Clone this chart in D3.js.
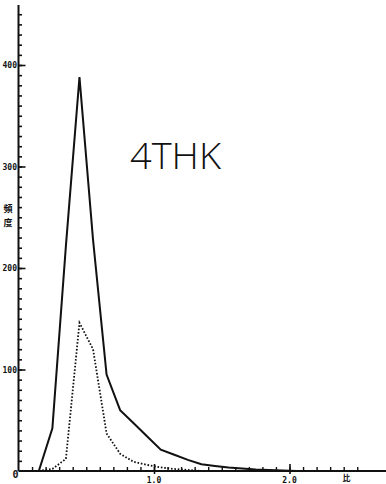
<!DOCTYPE html>
<html>
<head>
<meta charset="utf-8">
<script src="https://cdn.jsdelivr.net/npm/d3@7"></script>
<style>
  html, body { margin: 0; padding: 0; background: #fff; }
  svg { display: block; }
  .num { font-family: "DejaVu Sans Mono", "Liberation Mono", monospace; font-weight: bold; font-size: 8px; fill: #111; }
  .cjk { font-family: "Noto Sans CJK JP", "Noto Sans CJK SC", sans-serif; font-weight: bold; font-size: 9px; fill: #111; }
</style>
</head>
<body>
<svg id="chart" width="386" height="484"></svg>
<script>
// Class midpoints of the ratio (比) axis
const ratioClasses = [0.05, 0.15, 0.25, 0.35, 0.45, 0.55, 0.65, 0.75, 0.85, 0.95,
                      1.05, 1.15, 1.25, 1.35, 1.45, 1.55, 1.65, 1.75, 1.85, 1.95, 2.05];
// Frequency (頻度), full distribution — solid line
const freqSolid  = [0, 0, 42, 222, 388, 228, 95, 60, 47, 34,
                    21, 16, 11, 6.6, 5, 3.5, 2.5, 1.5, 1, 0.5, 0];
// Frequency, sub-distribution — dotted line
const freqDotted = [0, 0, 2, 12, 146, 120, 37, 17, 9, 6,
                    3.5, 2, 1, 0, 0, 0, 0, 0, 0, 0, 0];
// Axis ticks and labels
const yMajorTicks = [100, 200, 300, 400];
const yMinorTicks = d3.range(10, 460, 10);
const xMinorTicks = d3.range(1, 26).map(d => d / 10);
const xMajorTicks = [1.0, 2.0];
const xTickLabels = ["1.0", "2.0"];
const yTitle = ["頻", "度"];
const xTitle = "比";
const chartTag = "4THK";

const svg = d3.select("#chart");

const x = d3.scaleLinear().domain([0, 1]).range([18.5, 154]);
const y = d3.scaleLinear().domain([0, 400]).range([471, 65]);

// Y axis: line, minor ticks on the right, major ticks and labels
const yAxisG = svg.append("g").attr("transform", `translate(${x(0)},0)`);
yAxisG.append("line")
  .attr("x1", 0).attr("x2", 0)
  .attr("y1", 5).attr("y2", y(0))
  .attr("stroke", "#111").attr("stroke-width", 2);

const yMinor = svg.append("g").attr("transform", `translate(${x(0)},0)`)
  .call(d3.axisRight(y).tickValues(yMinorTicks).tickSize(3.5).tickFormat(""));
yMinor.select(".domain").remove();
yMinor.selectAll(".tick line").attr("stroke", "#111").attr("stroke-width", 1.6);

const yMajor = svg.append("g").attr("transform", `translate(${x(0)},0)`)
  .call(d3.axisRight(y).tickValues(yMajorTicks).tickSize(7).tickFormat(""));
yMajor.select(".domain").remove();
yMajor.selectAll(".tick line").attr("stroke", "#111").attr("stroke-width", 1.6);

const yLabels = svg.append("g").attr("transform", `translate(${x(0)},0)`)
  .call(d3.axisLeft(y).tickValues(yMajorTicks).tickSize(0).tickPadding(1.5).tickFormat(d3.format("d")));
yLabels.select(".domain").remove();
yLabels.selectAll("text").attr("class", "num").attr("font-size", null).attr("font-family", null);

// Y title, stacked vertically
svg.append("g").selectAll("text").data(yTitle).join("text")
  .attr("class", "cjk")
  .attr("x", 8).attr("y", (d, i) => 212 + i * 14)
  .attr("text-anchor", "middle")
  .text(d => d);

// X axis: line, minor ticks, longer ticks at whole numbers, labels
svg.append("line")
  .attr("x1", x(0)).attr("x2", 386)
  .attr("y1", y(0)).attr("y2", y(0))
  .attr("stroke", "#111").attr("stroke-width", 2);

const xMinor = svg.append("g").attr("transform", `translate(0,${y(0)})`)
  .call(d3.axisTop(x).tickValues(xMinorTicks).tickSize(4).tickFormat(""));
xMinor.select(".domain").remove();
xMinor.selectAll(".tick line").attr("stroke", "#111").attr("stroke-width", 1.4);

const xMajor = svg.append("g").attr("transform", `translate(0,${y(0)})`)
  .call(d3.axisTop(x).tickValues(xMajorTicks).tickSize(7).tickFormat(""));
xMajor.select(".domain").remove();
xMajor.selectAll(".tick line").attr("stroke", "#111").attr("stroke-width", 1.6).attr("y2", -7).attr("y1", 3);

svg.append("g").selectAll("text").data(xMajorTicks).join("text")
  .attr("class", "num")
  .attr("x", d => x(d)).attr("y", 483)
  .attr("text-anchor", "middle")
  .text((d, i) => xTickLabels[i]);

svg.append("text").attr("class", "num")
  .attr("x", x(0) - 3).attr("y", 478)
  .attr("text-anchor", "middle")
  .style("font-size", "10px")
  .text("0");

svg.append("text").attr("class", "cjk")
  .attr("x", x(2.42)).attr("y", 481)
  .attr("text-anchor", "middle")
  .style("font-size", "8px")
  .text(xTitle);

// Frequency polygons
const line = d3.line()
  .x((d, i) => x(ratioClasses[i]))
  .y(d => y(d));

svg.append("path")
  .datum(freqSolid)
  .attr("d", line)
  .attr("fill", "none")
  .attr("stroke", "#111")
  .attr("stroke-width", 2)
  .attr("stroke-linejoin", "miter");

svg.append("path")
  .datum(freqDotted)
  .attr("d", line)
  .attr("fill", "none")
  .attr("stroke", "#111")
  .attr("stroke-width", 1.8)
  .attr("stroke-dasharray", "1.6,1.8");

// Hand-written specimen label
svg.append("text")
  .attr("x", 130).attr("y", 169)
  .attr("font-family", "'Open Sans', 'DejaVu Sans', sans-serif")
  .attr("font-weight", 300)
  .attr("font-size", 37)
  .attr("fill", "#111")
  .attr("textLength", 91)
  .attr("lengthAdjust", "spacingAndGlyphs")
  .text(chartTag);
</script>
</body>
</html>
